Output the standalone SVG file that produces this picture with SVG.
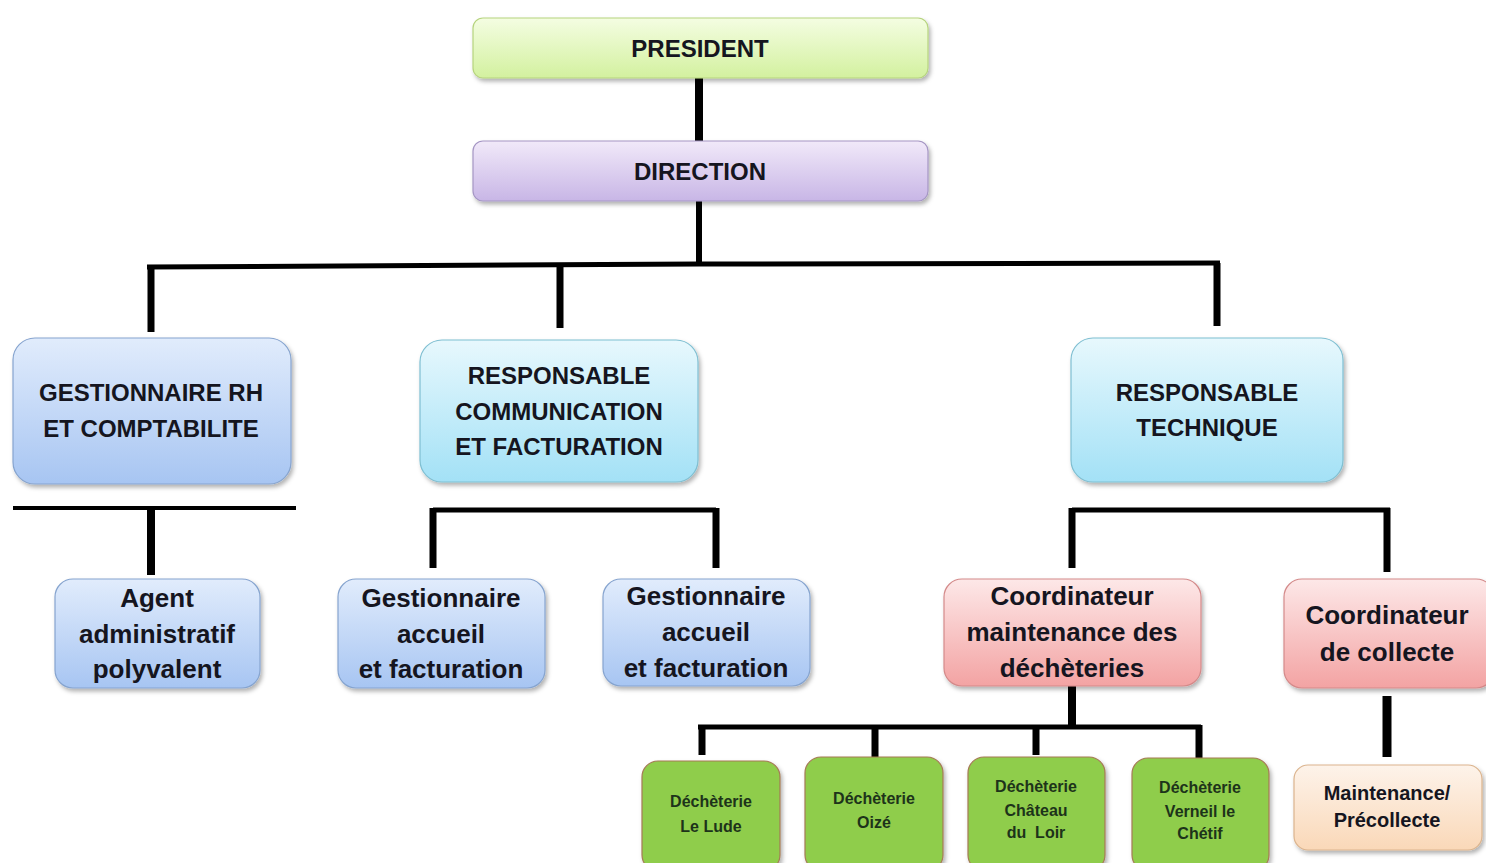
<svg xmlns="http://www.w3.org/2000/svg" width="1486" height="863" viewBox="0 0 1486 863">
<defs>
<linearGradient id="gGreen" x1="0" y1="0" x2="0" y2="1"><stop offset="0" stop-color="#f4fde2"/><stop offset="1" stop-color="#d3f19f"/></linearGradient>
<linearGradient id="gPurple" x1="0" y1="0" x2="0" y2="1"><stop offset="0" stop-color="#f1e9f9"/><stop offset="1" stop-color="#c8b6e6"/></linearGradient>
<linearGradient id="gBlue" x1="0" y1="0" x2="0" y2="1"><stop offset="0" stop-color="#e1ecfc"/><stop offset="1" stop-color="#a7c5f2"/></linearGradient>
<linearGradient id="gCyan" x1="0" y1="0" x2="0" y2="1"><stop offset="0" stop-color="#e7f8fd"/><stop offset="1" stop-color="#a3e1f6"/></linearGradient>
<linearGradient id="gPink" x1="0" y1="0" x2="0" y2="1"><stop offset="0" stop-color="#fde8e8"/><stop offset="1" stop-color="#f3a3a3"/></linearGradient>
<linearGradient id="gPeach" x1="0" y1="0" x2="0" y2="1"><stop offset="0" stop-color="#fdf3ea"/><stop offset="1" stop-color="#fad8b8"/></linearGradient>
<filter id="sh" x="-10%" y="-10%" width="120%" height="130%"><feDropShadow dx="2" dy="3" stdDeviation="2" flood-color="#000" flood-opacity="0.3"/></filter>
</defs>
<style>
.box{filter:url(#sh);stroke-width:1.2}
.t{font-family:"Liberation Sans",Arial,sans-serif;font-weight:bold;fill:#151520;text-anchor:middle}
.h{font-size:24px}
.m{font-size:26px}
.s{font-size:16px;fill:#1d331a}
.p{font-size:20px}
.c{stroke:#000;fill:none;stroke-linecap:butt}
</style>
<rect width="1486" height="863" fill="#fff"/>
<g id="connectors">
<path class="c" stroke-width="8" d="M699 78V141"/>
<path class="c" stroke-width="6" d="M699 201V264"/>
<path class="c" stroke-width="5" d="M147 267L699 264L1220 263"/>
<path class="c" stroke-width="7" d="M151 266V332M560 265V328M1217 263V326"/>
<path class="c" stroke-width="4" d="M13 508H296"/>
<path class="c" stroke-width="8" d="M151 508V575"/>
<path class="c" stroke-width="5" d="M433 510H716"/>
<path class="c" stroke-width="7" d="M433 508V568M716 508V568"/>
<path class="c" stroke-width="5" d="M1072 510H1390"/>
<path class="c" stroke-width="7" d="M1072 508V568M1387 508V572"/>
<path class="c" stroke-width="8" d="M1072 686V727"/>
<path class="c" stroke-width="5" d="M698 727H1201"/>
<path class="c" stroke-width="7" d="M702 725V755M875 725V758M1036 725V755M1199 725V758"/>
<path class="c" stroke-width="9" d="M1387 696V757"/>
</g>
<g id="president"><rect class="box" x="473" y="18" width="455" height="60" rx="10" fill="url(#gGreen)" stroke="#b6d47e"/><text class="t h" x="700" y="57">PRESIDENT</text></g>
<g id="direction"><rect class="box" x="473" y="141" width="455" height="60" rx="10" fill="url(#gPurple)" stroke="#a596c4"/><text class="t h" x="700" y="180">DIRECTION</text></g>
<g id="rh"><rect class="box" x="13" y="338" width="278" height="146" rx="22" fill="url(#gBlue)" stroke="#86a4cf"/><text class="t h" x="151" y="401">GESTIONNAIRE RH</text><text class="t h" x="151" y="437">ET COMPTABILITE</text></g>
<g id="comm"><rect class="box" x="420" y="340" width="278" height="142" rx="22" fill="url(#gCyan)" stroke="#7fbfd2"/><text class="t h" x="559" y="384">RESPONSABLE</text><text class="t h" x="559" y="420">COMMUNICATION</text><text class="t h" x="559" y="455">ET FACTURATION</text></g>
<g id="tech"><rect class="box" x="1071" y="338" width="272" height="144" rx="22" fill="url(#gCyan)" stroke="#7fbfd2"/><text class="t h" x="1207" y="401">RESPONSABLE</text><text class="t h" x="1207" y="436">TECHNIQUE</text></g>
<g id="agent"><rect class="box" x="55" y="579" width="205" height="109" rx="18" fill="url(#gBlue)" stroke="#86a4cf"/><text class="t m" x="157" y="607">Agent</text><text class="t m" x="157" y="643">administratif</text><text class="t m" x="157" y="678">polyvalent</text></g>
<g id="gest1"><rect class="box" x="338" y="579" width="207" height="109" rx="18" fill="url(#gBlue)" stroke="#86a4cf"/><text class="t m" x="441" y="607">Gestionnaire</text><text class="t m" x="441" y="643">accueil</text><text class="t m" x="441" y="678">et facturation</text></g>
<g id="gest2"><rect class="box" x="603" y="579" width="207" height="107" rx="18" fill="url(#gBlue)" stroke="#86a4cf"/><text class="t m" x="706" y="605">Gestionnaire</text><text class="t m" x="706" y="641">accueil</text><text class="t m" x="706" y="677">et facturation</text></g>
<g id="coordMaint"><rect class="box" x="944" y="579" width="257" height="107" rx="18" fill="url(#gPink)" stroke="#d48a8a"/><text class="t m" x="1072" y="605">Coordinateur</text><text class="t m" x="1072" y="641">maintenance des</text><text class="t m" x="1072" y="677">déchèteries</text></g>
<g id="coordCollecte"><rect class="box" x="1284" y="579" width="210" height="109" rx="18" fill="url(#gPink)" stroke="#d48a8a"/><text class="t m" x="1387" y="624">Coordinateur</text><text class="t m" x="1387" y="661">de collecte</text></g>
<g id="leLude"><rect class="box" x="642" y="761" width="138" height="110" rx="16" fill="#8fcd4c" stroke="#a57a55"/><text class="t s" x="711" y="807">Déchèterie</text><text class="t s" x="711" y="832">Le Lude</text></g>
<g id="oize"><rect class="box" x="805" y="757" width="138" height="114" rx="16" fill="#8fcd4c" stroke="#a57a55"/><text class="t s" x="874" y="804">Déchèterie</text><text class="t s" x="874" y="828">Oizé</text></g>
<g id="chateau"><rect class="box" x="968" y="757" width="137" height="114" rx="16" fill="#8fcd4c" stroke="#a57a55"/><text class="t s" x="1036" y="792">Déchèterie</text><text class="t s" x="1036" y="816">Château</text><text class="t s" x="1036" y="838" xml:space="preserve">du  Loir</text></g>
<g id="verneil"><rect class="box" x="1132" y="758" width="137" height="113" rx="16" fill="#8fcd4c" stroke="#a57a55"/><text class="t s" x="1200" y="793">Déchèterie</text><text class="t s" x="1200" y="817">Verneil le</text><text class="t s" x="1200" y="839">Chétif</text></g>
<g id="maintenance"><rect class="box" x="1294" y="765" width="188" height="85" rx="14" fill="url(#gPeach)" stroke="#dbb48e"/><text class="t p" x="1387" y="800">Maintenance/</text><text class="t p" x="1387" y="827">Précollecte</text></g>
</svg>
